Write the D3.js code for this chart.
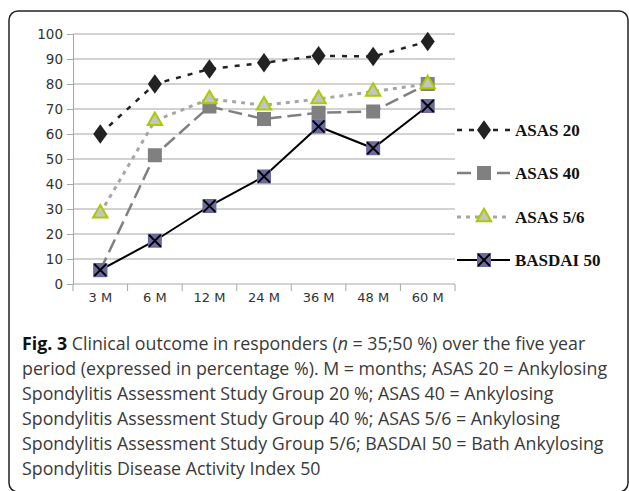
<!DOCTYPE html>
<html><head><meta charset="utf-8">
<script src="https://cdn.jsdelivr.net/npm/d3@7"></script>
<style>body{margin:0;background:#fff}svg{display:block}</style>
</head><body>
<svg id="c" width="629" height="491"></svg>
<script>
const categories = ["3 M","6 M","12 M","24 M","36 M","48 M","60 M"];
const asas20 = [60, 80, 86, 88.5, 91.3, 91, 97];
const asas40 = [5.5, 51.5, 71, 66, 68.5, 69, 80];
const asas56 = [28.3, 65.3, 74, 71.5, 74, 77, 80];
const basdai50 = [5.6, 17.3, 31.2, 43, 63, 54.3, 71.2];
const yTicks = [0,10,20,30,40,50,60,70,80,90,100];
const seriesNames = ["ASAS 20","ASAS 40","ASAS 5/6","BASDAI 50"];
const captionLines = [
  [{t:"Fig. 3",b:true},{t:" Clinical outcome in responders ("},{t:"n",i:true},{t:" = 35;50 %) over the five year"}],
  [{t:"period (expressed in percentage %). M = months; ASAS 20 = Ankylosing"}],
  [{t:"Spondylitis Assessment Study Group 20 %; ASAS 40 = Ankylosing"}],
  [{t:"Spondylitis Assessment Study Group 40 %; ASAS 5/6 = Ankylosing"}],
  [{t:"Spondylitis Assessment Study Group 5/6; BASDAI 50 = Bath Ankylosing"}],
  [{t:"Spondylitis Disease Activity Index 50"}]
];

const svg = d3.select("#c");
// frame
svg.append("rect").attr("x",9).attr("y",11).attr("width",619).attr("height",481)
  .attr("rx",9).attr("fill","none").attr("stroke","#222").attr("stroke-width",1.5);

const x = d3.scaleBand().domain(categories).range([73,455]);
const y = d3.scaleLinear().domain([0,100]).range([284,34]);

// gridlines
svg.append("g").selectAll("line").data(yTicks.filter(d=>d>0)).join("line")
  .attr("x1",73).attr("x2",455).attr("y1",d=>y(d)).attr("y2",d=>y(d))
  .attr("stroke","#a6a6a6").attr("stroke-width",1);

const yAxis = svg.append("g").attr("transform","translate(73,0)")
  .call(d3.axisLeft(y).tickValues(yTicks).tickSize(6).tickPadding(4));
yAxis.select(".domain").attr("stroke","#a6a6a6");
yAxis.selectAll(".tick line").attr("stroke","#a6a6a6");
yAxis.selectAll("text").attr("font-family","DejaVu Sans").attr("font-size",13.5).attr("fill","#333");

const xAxis = svg.append("g").attr("transform","translate(0,284)")
  .call(d3.axisBottom(x).tickSize(0).tickPadding(9));
xAxis.select(".domain").attr("stroke","#a6a6a6").attr("d","M73,0H455");
xAxis.selectAll("text").attr("font-family","DejaVu Sans").attr("font-size",13).attr("fill","#333");
// category boundary ticks
svg.append("g").selectAll("line").data(categories.concat(["end"])).join("line")
  .attr("x1",(d,i)=>73+i*x.step()).attr("x2",(d,i)=>73+i*x.step())
  .attr("y1",284).attr("y2",291).attr("stroke","#a6a6a6");

const cx = c => x(c)+x.bandwidth()/2;
const line = d3.line().x((d,i)=>cx(categories[i])).y(d=>y(d));

const styles = [
  {data:asas20, stroke:"#222", w:2.5, dash:"5,7", marker:"diamond"},
  {data:asas40, stroke:"#808080", w:2.5, dash:"14,6", marker:"square"},
  {data:asas56, stroke:"#a6a6a6", w:3, dash:"4,5", marker:"triangle"},
  {data:basdai50, stroke:"#000", w:2, dash:null, marker:"xsquare"}
];

function drawMarker(g, type, px, py){
  if(type==="diamond"){
    g.append("path").attr("d",d3.symbol(d3.symbolDiamond,110)()).attr("transform",`translate(${px},${py}) scale(1.25,1)`).attr("fill","#222");
  } else if(type==="square"){
    g.append("rect").attr("x",px-7).attr("y",py-7).attr("width",14).attr("height",14).attr("fill","#808080");
  } else if(type==="triangle"){
    g.append("path").attr("d",d3.symbol(d3.symbolTriangle,90)()).attr("transform",`translate(${px},${py})`)
      .attr("fill","#c4c4c4").attr("stroke","#a8cc00").attr("stroke-width",2);
  } else {
    g.append("rect").attr("x",px-7).attr("y",py-7).attr("width",14).attr("height",14).attr("fill","#6a6a9e");
    g.append("path").attr("d",`M${px-6},${py-6}L${px+6},${py+6}M${px+6},${py-6}L${px-6},${py+6}`).attr("stroke","#000").attr("stroke-width",1.8);
  }
}

styles.forEach(s=>{
  svg.append("path").datum(s.data).attr("d",line).attr("fill","none")
    .attr("stroke",s.stroke).attr("stroke-width",s.w).attr("stroke-dasharray",s.dash);
});
styles.forEach(s=>{
  const g = svg.append("g");
  s.data.forEach((v,i)=>drawMarker(g,s.marker,cx(categories[i]),y(v)));
});

// legend
const legY = [130,173,217,260];
styles.forEach((s,i)=>{
  const g = svg.append("g");
  g.append("line").attr("x1",457).attr("x2",510).attr("y1",legY[i]).attr("y2",legY[i])
    .attr("stroke",s.stroke).attr("stroke-width",s.w).attr("stroke-dasharray",s.dash);
  drawMarker(g,s.marker,484,legY[i]);
  g.append("text").attr("x",515).attr("y",legY[i]+6).text(seriesNames[i])
    .attr("font-family","Liberation Serif").attr("font-weight","bold").attr("font-size",17).attr("fill","#111");
});

// caption
captionLines.forEach((ln,i)=>{
  const t = svg.append("text").attr("x",22).attr("y",350+i*25)
    .attr("font-family","Open Sans").attr("font-size",17.8).attr("fill","#3a3a3a");
  ln.forEach(p=>{
    const ts = t.append("tspan").text(p.t);
    if(p.b) ts.attr("font-weight","bold").attr("fill","#111");
    if(p.i) ts.attr("font-style","italic");
  });
});
</script>
</body></html>
